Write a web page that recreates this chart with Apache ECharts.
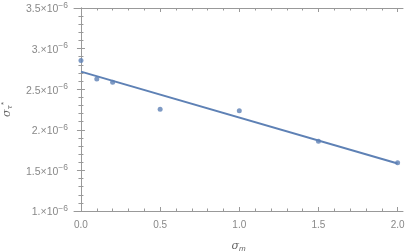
<!DOCTYPE html>
<html><head><meta charset="utf-8">
<script src="https://cdn.jsdelivr.net/npm/echarts@6/dist/echarts.min.js"></script>
<style>html,body{margin:0;padding:0;background:#fff}#c{width:407px;height:252px}</style>
</head><body><div id="c"></div>
<script>
// Data
var sigmaM = [0, 0.1, 0.2, 0.5, 1.0, 1.5, 2.0];
var sigmaTau = [2.852e-6, 2.626e-6, 2.585e-6, 2.252e-6, 2.235e-6, 1.860e-6, 1.593e-6];
var fitX = [0, 2.0];
var fitY = [2.716e-6, 1.585e-6];
var xMajorTicks = [0, 0.5, 1.0, 1.5, 2.0];
var xTickLabels = ['0.0', '0.5', '1.0', '1.5', '2.0'];
var xMinorTicks = [0.1,0.2,0.3,0.4,0.6,0.7,0.8,0.9,1.1,1.2,1.3,1.4,1.6,1.7,1.8,1.9];
var yMajorTicks = [1.0e-6, 1.5e-6, 2.0e-6, 2.5e-6, 3.0e-6, 3.5e-6];
var yTickMantissas = ['1.', '1.5', '2.', '2.5', '3.', '3.5'];
var yMinorTicks = [1.1e-6,1.2e-6,1.3e-6,1.4e-6,1.6e-6,1.7e-6,1.8e-6,1.9e-6,2.1e-6,2.2e-6,2.3e-6,2.4e-6,2.6e-6,2.7e-6,2.8e-6,2.9e-6,3.1e-6,3.2e-6,3.3e-6,3.4e-6];

var blue = '#5E81B5';
var frameCol = '#999999';
var labelCol = '#888888';
var FONT = 'Liberation Sans, Arial, sans-serif';
var X_MIN = -0.044, X_MAX = 2.034, Y_MIN = 1.0e-6, Y_MAX = 3.5e-6;

function xAx(pos, major, showLabel) {
  return {
    type: 'value', position: pos, min: X_MIN, max: X_MAX, gridIndex: 0,
    axisLine: {show: major, lineStyle: {color: frameCol, width: 1}},
    splitLine: {show: false},
    axisTick: {show: true, inside: true, length: major ? 4 : 2.5,
      lineStyle: {color: frameCol, width: 1},
      customValues: major ? xMajorTicks : xMinorTicks},
    axisLabel: {show: showLabel, customValues: xMajorTicks, color: labelCol,
      fontFamily: FONT, fontSize: 10, margin: 9,
      formatter: function (v) {
        var i = xMajorTicks.findIndex(function (t) { return Math.abs(t - v) < 1e-9; });
        return i >= 0 ? xTickLabels[i] : '';
      }}
  };
}
function yAx(pos, major, showLabel) {
  return {
    type: 'value', position: pos, min: Y_MIN, max: Y_MAX, gridIndex: 0,
    axisLine: {show: major, lineStyle: {color: frameCol, width: 1}},
    splitLine: {show: false},
    axisTick: {show: true, inside: true, length: major ? 4 : 2.5,
      lineStyle: {color: frameCol, width: 1},
      customValues: major ? yMajorTicks : yMinorTicks},
    axisLabel: {show: showLabel, customValues: yMajorTicks, margin: 6,
      formatter: function (v) {
        var i = yMajorTicks.findIndex(function (t) { return Math.abs(t - v) < 1e-12; });
        return i >= 0 ? '{a|' + yTickMantissas[i] + '\u00d710}{b|\u22126}' : '';
      },
      rich: {
        a: {color: labelCol, fontFamily: FONT, fontSize: 10.5, lineHeight: 14, verticalAlign: 'bottom'},
        b: {color: labelCol, fontFamily: FONT, fontSize: 8.5, lineHeight: 14, verticalAlign: 'top', padding: [0, 0, 6, 0]}
      }}
  };
}

var xAxes = [xAx('bottom', true, true), xAx('bottom', false, false), xAx('top', true, false), xAx('top', false, false)];
xAxes[0].name = '{s|\u03c3}{m|m}';
xAxes[0].nameLocation = 'middle';
xAxes[0].nameGap = 28;
xAxes[0].nameTextStyle = {rich: {
  s: {fontFamily: 'DejaVu Serif, serif', fontSize: 11, color: '#666', fontStyle: 'italic'},
  m: {fontFamily: FONT, fontSize: 8, color: '#666', fontStyle: 'italic', padding: [6, 0, 0, 0]}
}};
var yAxes = [yAx('left', true, true), yAx('left', false, false), yAx('right', true, false), yAx('right', false, false)];
yAxes[0].name = '{s|\u03c3}{t|\u03c4}{u|*}';
yAxes[0].nameLocation = 'middle';
yAxes[0].nameRotate = 90;
yAxes[0].nameGap = 60;
yAxes[0].nameTextStyle = {rich: {
  s: {fontFamily: 'DejaVu Serif, serif', fontSize: 11, color: '#666', fontStyle: 'italic'},
  t: {fontFamily: 'DejaVu Serif, serif', fontSize: 8, color: '#666', fontStyle: 'italic', padding: [6, 0, 0, 0]},
  u: {fontFamily: FONT, fontSize: 8, color: '#666', padding: [0, 0, 6, 0]}
}};

var chart = echarts.init(document.getElementById('c'), null, {renderer: 'canvas'});
chart.setOption({
  animation: false,
  backgroundColor: '#ffffff',
  grid: {left: 74, right: 4, top: 8, bottom: 41, containLabel: false, outerBoundsMode: 'none'},
  xAxis: xAxes,
  yAxis: yAxes,
  series: [
    {type: 'line', xAxisIndex: 0, yAxisIndex: 0,
      data: fitX.map(function (x, i) { return [x, fitY[i]]; }),
      showSymbol: false, lineStyle: {color: blue, width: 2}},
    {type: 'scatter', xAxisIndex: 0, yAxisIndex: 0,
      data: sigmaM.map(function (x, i) { return [x, sigmaTau[i]]; }),
      symbol: 'circle', symbolSize: 5, itemStyle: {color: blue}}
  ]
});
</script></body></html>
